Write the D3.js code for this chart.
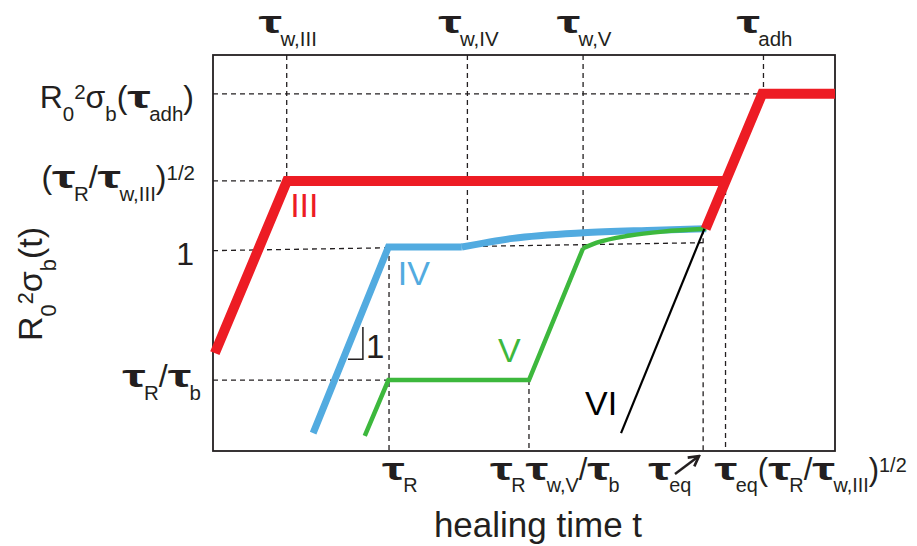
<!DOCTYPE html>
<html>
<head>
<meta charset="utf-8">
<script src="https://cdn.jsdelivr.net/npm/d3@7"></script>
<style>
body { margin: 0; background: #fff; }
svg { display: block; font-family: "Liberation Sans", Arial, Helvetica, sans-serif; }
text { fill: #231f20; }
</style>
</head>
<body>
<svg class="chart" width="917" height="546"></svg>
<script>
// schematic log-log plot: both axes run 0..100 in "decades" units
var xTickValues = [28.3, 50.8, 78.8, 82.4];
var xTickLabels = ['τ_{R}', 'τ_{R}τ_{w,V}/τ_{b}', 'τ_{eq}', 'τ_{eq}(τ_{R}/τ_{w,III})^{1/2}'];
var xTopTickValues = [11.85, 40.9, 59.5, 88.5];
var xTopTickLabels = ['τ_{w,III}', 'τ_{w,IV}', 'τ_{w,V}', 'τ_{adh}'];
var yTickValues = [17.9, 50.6, 68.2, 90.2];
var yTickLabels = ['τ_{R}/τ_{b}', '1', '(τ_{R}/τ_{w,III})^{1/2}', 'R_{0}^{2}σ_{b}(τ_{adh})'];

var regimeNames = ['III', 'IV', 'V', 'VI'];
var regimeIII = [[0.3, 24.7], [11.9, 68.2], [82.2, 68.2]];
var regimeIIIadh = [[79.2, 56.1], [88.3, 90.2], [100, 90.2]];
var regimeIV = [[16.1, 4.5], [28.2, 51.5], [40, 51.5]];
var regimeIVtail = [[40, 51.5], [48.2, 53.7], [59.5, 55.1], [69.8, 55.7], [79.3, 56.1]];
var regimeV = [[24.4, 3.8], [28.2, 17.9], [50.8, 17.9], [59.5, 51.2]];
var regimeVtail = [[59.5, 51.2], [61.7, 52.6], [67, 54.4], [72.3, 55.4], [79.3, 56.1]];
var regimeVI = [[65.6, 4.5], [79.0, 56.1]];

// dashed guides [[x0,y0],[x1,y1]]
var guides = [
    [[11.85, 100], [11.85, 68.2]],
    [[40.9, 100], [40.9, 51.6]],
    [[59.5, 100], [59.5, 51.2]],
    [[88.5, 100], [88.5, 90.2]],
    [[28.3, 51.5], [28.3, 0]],
    [[50.8, 17.9], [50.8, 0]],
    [[78.8, 56.0], [78.8, 0]],
    [[82.4, 68.2], [82.4, 0]],
    [[0, 90.2], [88.3, 90.2]],
    [[0, 68.2], [11.9, 68.2]],
    [[0, 50.6], [78.8, 52.6]],
    [[0, 17.9], [28.2, 17.9]]
];

var margin = {left: 213, top: 55, right: 82, bottom: 95};
var width = 917, height = 546;

var x = d3.scaleLinear().domain([0, 100]).range([margin.left, width - margin.right]);
var y = d3.scaleLinear().domain([0, 100]).range([height - margin.bottom, margin.top]);

var svg = d3.select('svg.chart');
var ink = '#231f20';

var line = d3.line()
    .x(function(d){ return x(d[0]); })
    .y(function(d){ return y(d[1]); });

var smooth = d3.line()
    .curve(d3.curveMonotoneX)
    .x(function(d){ return x(d[0]); })
    .y(function(d){ return y(d[1]); });

// lays out a_{b}^{c} markup piece by piece; tau is drawn wide and heavy like the Symbol font
var tauStretch = 1.65;
var richLabel = function(g, str, size, anchor){
    var re = /([_^])\{([^}]*)\}|([^_^]+)/g, m, pieces = [];
    while ((m = re.exec(str))){
        var kind = m[3] ? 'n' : (m[1] == '_' ? 'sub' : 'sup');
        (m[3] || m[2]).split(/(τ)/).forEach(function(s){
            if (s) pieces.push({s: s, kind: kind});
        });
    }
    var inner = g.append('g'), cx = 0;
    pieces.forEach(function(p){
        var fs = p.kind == 'n' ? size : size * 0.64;
        var dy = p.kind == 'sub' ? size * 0.4 : p.kind == 'sup' ? -size * 0.26 : 0;
        var t = inner.append('text').style('font-size', fs + 'px').text(p.s);
        var w = t.node().getComputedTextLength();
        if (p.s == 'τ'){
            t.style('font-weight', 'bold')
                .attr('transform', 'translate(' + [cx, dy] + ') scale(' + tauStretch + ',1)');
            w *= tauStretch;
        } else {
            t.attr('x', cx).attr('y', dy);
        }
        cx += w + (p.s == 'τ' ? 1 : 0);
    });
    var shift = anchor == 'middle' ? -cx / 2 : anchor == 'end' ? -cx : 0;
    inner.attr('transform', 'translate(' + shift + ',0)');
};

svg.append('defs').append('marker')
    .attr('id', 'head')
    .attr('viewBox', '0 0 14 14')
    .attr('refX', 12).attr('refY', 7)
    .attr('markerUnits', 'userSpaceOnUse')
    .attr('markerWidth', 14).attr('markerHeight', 14)
    .attr('orient', 'auto')
    .append('path')
    .attr('d', 'M2,1.5 L12,7 L2,12.5')
    .attr('fill', 'none')
    .attr('stroke', ink)
    .attr('stroke-width', 2.6);

// guides
svg.append('g').selectAll('path')
    .data(guides)
    .enter().append('path')
    .attr('d', line)
    .attr('fill', 'none')
    .attr('stroke', ink)
    .attr('stroke-width', 1.3)
    .attr('stroke-dasharray', '5,4');

// frame
svg.append('rect')
    .attr('x', x(0)).attr('y', y(100))
    .attr('width', x(100) - x(0)).attr('height', y(0) - y(100))
    .attr('fill', 'none')
    .attr('stroke', ink)
    .attr('stroke-width', 1.8);

var curves = [
    {d: regimeIV, gen: line, color: '#52abe0', w: 7},
    {d: regimeIVtail, gen: smooth, color: '#52abe0', w: 7},
    {d: regimeV, gen: line, color: '#3db83d', w: 4.5},
    {d: regimeVtail, gen: smooth, color: '#3db83d', w: 4.5},
    {d: regimeIII, gen: line, color: '#ed1c24', w: 10},
    {d: regimeIIIadh, gen: line, color: '#ed1c24', w: 10},
    {d: regimeVI, gen: line, color: '#000', w: 2.2}
];

svg.append('g').selectAll('path')
    .data(curves)
    .enter().append('path')
    .attr('d', function(c){ return c.gen(c.d); })
    .attr('fill', 'none')
    .attr('stroke', function(c){ return c.color; })
    .attr('stroke-width', function(c){ return c.w; })
    .attr('stroke-linejoin', 'miter')
    .attr('stroke-linecap', 'butt');

// regime names
var nameSpots = [[12.4, 59.1, '#ed1c24'], [29.7, 41.9, '#52abe0'], [45.8, 22.5, '#3db83d'], [59.8, 9.1, '#000']];
svg.append('g').selectAll('text')
    .data(regimeNames)
    .enter().append('text')
    .attr('x', function(d, i){ return x(nameSpots[i][0]); })
    .attr('y', function(d, i){ return y(nameSpots[i][1]); })
    .style('fill', function(d, i){ return nameSpots[i][2]; })
    .style('font-size', '34px')
    .text(function(d){ return d; });

// slope triangle
svg.append('path')
    .attr('d', line([[24.1, 31.3], [24.1, 23.2], [21.7, 23.2]]))
    .attr('fill', 'none')
    .attr('stroke', ink)
    .attr('stroke-width', 1.5);
svg.append('text')
    .attr('x', x(24.6)).attr('y', y(23.4))
    .style('font-size', '33px')
    .text('1');

// top ticks
svg.append('g').selectAll('g')
    .data(xTopTickValues)
    .enter().append('g')
    .attr('transform', function(d){ return 'translate(' + [x(d) + 1, 33] + ')'; })
    .each(function(d, i){ richLabel(d3.select(this), xTopTickLabels[i], 32, 'middle'); });

// bottom ticks
var bottomDx = [-7, -39, -55, -11];
svg.append('g').selectAll('g')
    .data(xTickValues)
    .enter().append('g')
    .attr('transform', function(d, i){ return 'translate(' + [x(d) + bottomDx[i], 480] + ')'; })
    .each(function(d, i){ richLabel(d3.select(this), xTickLabels[i], 31, 'start'); });

svg.append('line')
    .attr('x1', 675).attr('y1', 474)
    .attr('x2', 699).attr('y2', 456)
    .attr('stroke', ink)
    .attr('stroke-width', 2.4)
    .attr('marker-end', 'url(#head)');

// left ticks
var leftDx = [201, 194, 195, 194];
var leftDy = [7, 14, 7, 14];
svg.append('g').selectAll('g')
    .data(yTickValues)
    .enter().append('g')
    .attr('transform', function(d, i){ return 'translate(' + [leftDx[i], y(d) + leftDy[i]] + ')'; })
    .each(function(d, i){ richLabel(d3.select(this), yTickLabels[i], 32, 'end'); });

// axis titles
svg.append('text')
    .attr('x', 538).attr('y', 537)
    .attr('text-anchor', 'middle')
    .style('font-size', '35px')
    .text('healing time t');

svg.append('g')
    .attr('transform', 'translate(42,284) rotate(-90)')
    .call(function(g){ richLabel(g, 'R_{0}^{2}σ_{b}(t)', 34, 'middle'); });
</script>
</body>
</html>
